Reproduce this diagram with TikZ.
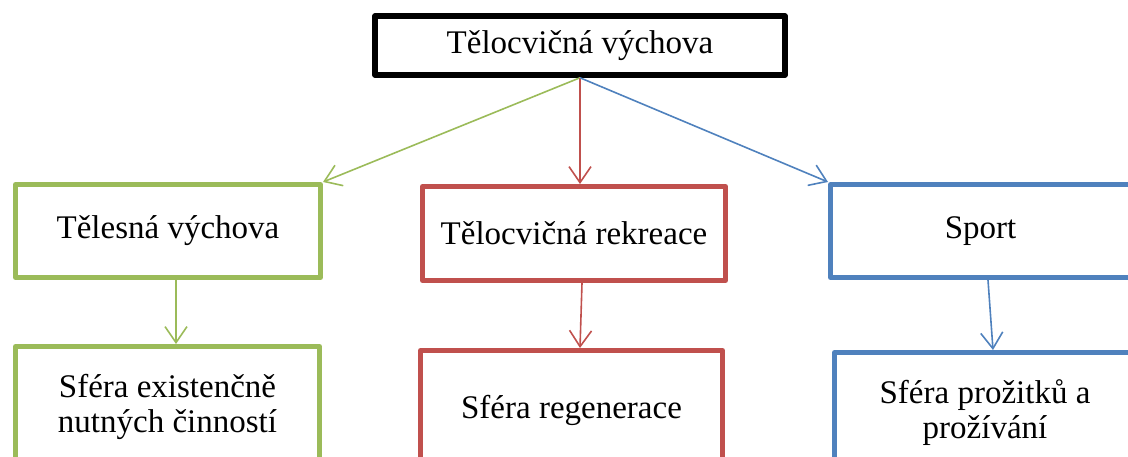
\documentclass[tikz,border=0pt]{standalone}
\usepackage{fontspec}
\setmainfont{Liberation Serif}
\definecolor{boxgreen}{RGB}{155, 187, 89}
\definecolor{boxred}{RGB}{192, 80, 77}
\definecolor{boxblue}{RGB}{79, 129, 189}
\usetikzlibrary{arrows.meta, positioning}
\tikzset{
  area/.style={draw=#1, line width=5pt, line join=round, minimum width=303pt, minimum height=93pt,
    align=center, inner sep=0pt, font=\fontsize{33}{35}\selectfont},
  link/.style={draw=#1, line width=1.6pt, -{Straight Barb[length=16pt, width=22pt]}},
}

\begin{document}
\begin{tikzpicture}[x=1pt, y=-1pt]
  \useasboundingbox (0,0) rectangle (1128,456);
  % top level
  \node[area=black, line width=5.5pt, minimum width=410pt, minimum height=59pt] (tv) at (580,45.5) {Tělocvičná výchova};
  % second row
  \node[area=boxgreen, minimum width=305pt] (telv) at (168,231) {Tělesná výchova};
  \node[area=boxred, minimum height=94pt] (rek) at (574,233.5) {Tělocvičná rekreace};
  \node[area=boxblue, minimum width=300pt] (sport) at (980.5,231) {Sport};
  % third row
  \node[area=boxgreen, minimum width=304pt, minimum height=120pt] (nutne) at (167.5,406.5) {Sféra existenčně\\nutných činností};
  \node[area=boxred, minimum width=302pt, minimum height=120pt] (regen) at (571.5,410.5) {Sféra regenerace};
  \node[area=boxblue, minimum width=301pt, minimum height=120pt] (prozit) at (985,412.5) {Sféra prožitků a\\prožívání};
  % arrows
  \draw[link=boxgreen] (tv.south) -- (telv.north east);
  \draw[link=boxred] (tv.south) -- (tv.south |- rek.north);
  \draw[link=boxblue] (tv.south) -- (sport.north west);
  \draw[link=boxgreen] ([xshift=8pt]telv.south) -- ([xshift=8pt]telv.south |- nutne.north);
  \draw[link=boxred] ([xshift=8pt]rek.south) -- ([xshift=8.5pt]regen.north);
  \draw[link=boxblue] ([xshift=7.5pt]sport.south) -- ([xshift=8pt]prozit.north);
\end{tikzpicture}
\end{document}
